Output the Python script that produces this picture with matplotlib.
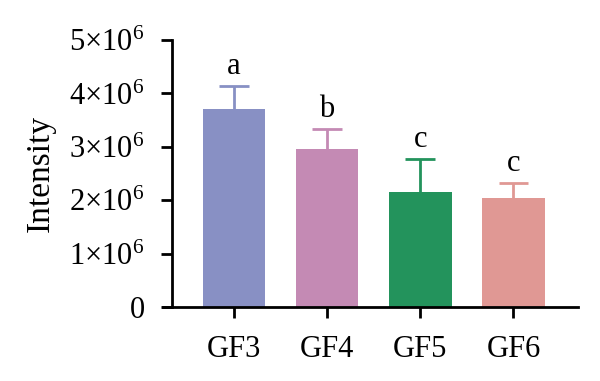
import numpy as np
import matplotlib.pyplot as plt
from matplotlib.ticker import FuncFormatter

groups = ["GF3", "GF4", "GF5", "GF6"]
means = [3.71e6, 2.96e6, 2.15e6, 2.04e6]
errs = [0.43e6, 0.37e6, 0.62e6, 0.28e6]
letters = ["a", "b", "c", "c"]
colors = ["#8890C4", "#C48AB4", "#23935C", "#E09894"]

plt.rcParams["font.family"] = ["Liberation Serif", "DejaVu Serif"]
plt.rcParams["mathtext.fontset"] = "custom"
plt.rcParams["mathtext.rm"] = "Liberation Serif"

fig = plt.figure(figsize=(6, 3.81), dpi=100)
ax = fig.add_axes([0.2717, 0.194, 0.963 - 0.2717, 0.895 - 0.194])

x = np.arange(len(groups))
ax.bar(x, means, width=0.67, color=colors, zorder=2)
cap = 0.16
for xi, m, e, c, lab in zip(x, means, errs, colors, letters):
    # upper error bar only
    ax.vlines(xi, m, m + e, color=c, lw=2, zorder=1)
    ax.hlines(m + e, xi - cap, xi + cap, color=c, lw=2, zorder=1)
    ax.text(xi, m + e + 0.1e6, lab, ha="center", va="bottom", fontsize=22)

ax.set_xlim(-0.76, 3.69)
ax.set_ylim(0, 5e6)
ax.set_xticks(x)
ax.set_xticklabels(groups, fontsize=22)
ax.set_yticks(np.arange(0, 5.1e6, 1e6))


def fmt(v, pos):
    n = int(round(v / 1e6))
    if n == 0:
        return "0"
    return r"$\mathregular{%d{\times}10^{6}}$" % n


ax.yaxis.set_major_formatter(FuncFormatter(fmt))
ax.tick_params(axis="y", labelsize=22, length=8, width=2, pad=12)
ax.tick_params(axis="x", length=8, width=2, pad=12)
ax.set_ylabel("Intensity", fontsize=24, labelpad=10)

ax.spines["top"].set_visible(False)
ax.spines["right"].set_visible(False)
ax.spines["left"].set_linewidth(2)
ax.spines["bottom"].set_linewidth(2)
ax.spines["left"].set_position(("data", -0.66))

fig.savefig("out.png", dpi=100)
